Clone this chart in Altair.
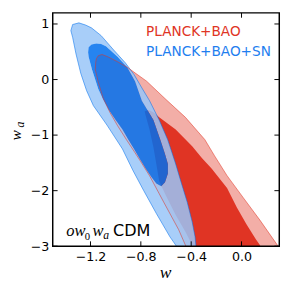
import altair as alt
import pandas as pd

# ---------------- data ----------------
x_ticks = [-1.2, -0.8, -0.4, 0.0]
y_ticks = [-3, -2, -1, 0, 1]

# PLANCK+BAO+SN 95% contour
blue95_w = [-1.356, -1.342, -1.292, -1.238, -1.192, -1.115, -1.015, -0.923, -0.854, -0.792,
            -0.731, -0.654, -0.587, -0.562, -0.523, -0.477, -0.431, -0.392, -0.369, -0.362,
            -0.354, -0.462, -0.523, -0.569, -0.677, -0.777, -0.862, -0.946, -1.069, -1.177,
            -1.231, -1.277, -1.315, -1.342]
blue95_wa = [0.88, 0.99, 1.02, 0.98, 0.93, 0.79, 0.53, 0.30, 0.09, -0.15,
             -0.38, -0.73, -1.08, -1.25, -1.52, -1.87, -2.21, -2.56, -2.83, -2.99,
             -3.26, -3.26, -2.98, -2.83, -2.41, -2.00, -1.64, -1.25, -0.82, -0.47,
             -0.20, 0.11, 0.46, 0.76]

# PLANCK+BAO+SN 68% contour
blue68_w = [-1.219, -1.215, -1.192, -1.154, -1.115, -1.077, -0.985, -0.908, -0.846, -0.792,
            -0.700, -0.646, -0.608, -0.585, -0.585, -0.608, -0.638, -0.677, -0.715, -0.762,
            -0.808, -0.854, -0.900, -0.946, -1.000, -1.054, -1.100, -1.138, -1.188, -1.215]
blue68_wa = [0.49, 0.58, 0.63, 0.65, 0.64, 0.60, 0.41, 0.22, -0.03, -0.38,
             -0.73, -1.08, -1.34, -1.52, -1.69, -1.85, -1.92, -1.87, -1.76, -1.60,
             -1.43, -1.25, -1.08, -0.90, -0.73, -0.55, -0.36, -0.17, 0.18, 0.41]

# PLANCK+BAO 95% contour
red95_w = [-1.152, -1.138, -1.108, -1.062, -0.985, -0.908, -0.754, -0.600, -0.446, -0.292,
           -0.215, -0.115, 0.015, 0.146, 0.285, 0.354, -0.392, -0.446, -0.500, -0.615,
           -0.731, -0.800, -0.854, -0.915, -0.985, -1.046, -1.100, -1.138, -1.162, -1.158]
red95_wa = [0.38, 0.43, 0.45, 0.41, 0.32, 0.22, -0.03, -0.36, -0.68, -1.08,
            -1.37, -1.73, -2.13, -2.53, -2.98, -3.26, -3.26, -2.98, -2.70, -2.22,
            -1.73, -1.48, -1.29, -1.08, -0.83, -0.59, -0.33, -0.05, 0.18, 0.32]

# PLANCK+BAO 68% contour
red68_w = [-0.769, -0.738, -0.700, -0.654, -0.523, -0.392, -0.315, -0.238, -0.115, -0.038,
           0.038, 0.115, 0.146, 0.185, -0.346, -0.392, -0.446, -0.523, -0.600, -0.654,
           -0.677, -0.700, -0.731, -0.754, -0.765]
red68_wa = [-0.57, -0.55, -0.59, -0.68, -0.90, -1.20, -1.41, -1.60, -1.95, -2.30,
            -2.60, -2.88, -2.98, -3.26, -3.26, -2.98, -2.74, -2.44, -2.09, -1.83,
            -1.52, -1.22, -0.90, -0.71, -0.62]

legend_labels = ["PLANCK+BAO", "PLANCK+BAO+SN"]

# ---------------- colours ----------------
RED = "#E03424"
RED_LIGHT = "#F3AEA7"
BLUE = "#006FED"
BLUE_LIGHT = "#99C5F8"

W, H = 233, 240


def ring(ws, was):
    return list(zip(ws, was)) + [(ws[0], was[0])]


def frame(pts):
    return pd.DataFrame({"w": [p[0] for p in pts], "wa": [p[1] for p in pts],
                         "i": list(range(len(pts)))})


red95_df = frame(ring(red95_w, red95_wa))
red68_df = frame(ring(red68_w, red68_wa))
blue68_df = frame(ring(blue68_w, blue68_wa))
blue95_df = frame(ring(blue95_w, blue95_wa))
# blue 95% band = outer ring with the 68% region cut out (reverse winding)
outer = ring(blue95_w, blue95_wa)
inner = ring(blue68_w[::-1], blue68_wa[::-1])
band_df = frame(outer + inner + [outer[0]])

xs = alt.Scale(domain=[-1.5, 0.3], nice=False, zero=False)
ys = alt.Scale(domain=[-3, 1.2], nice=False, zero=False)

X = alt.X("w:Q", scale=xs, title="",
          axis=alt.Axis(values=x_ticks, format=".1f", ticks=False, domain=False, grid=False,
                        labelFont="DejaVu Sans", labelFontSize=13, labelColor="black",
                        labelPadding=5))
Y = alt.Y("wa:Q", scale=ys, title="",
          axis=alt.Axis(values=y_ticks, format="d", ticks=False, domain=False, grid=False,
                        labelFont="DejaVu Sans", labelFontSize=13, labelColor="black",
                        labelPadding=4))


def poly(df, **kw):
    return alt.Chart(df).mark_line(clip=True, **kw).encode(
        x=alt.X("w:Q", scale=xs), y=alt.Y("wa:Q", scale=ys), order="i:Q")


base = alt.Chart(red95_df).mark_line(clip=True, fill=RED_LIGHT, strokeWidth=0).encode(
    x=X, y=Y, order="i:Q")

layers = [
    base,
    poly(red68_df, fill=RED, strokeWidth=0),
    poly(band_df, fill=BLUE_LIGHT, fillOpacity=0.85, strokeWidth=0),
    poly(blue68_df, fill=BLUE, fillOpacity=0.85, strokeWidth=0),
    poly(blue95_df, stroke=BLUE, strokeOpacity=0.55, strokeWidth=1),
    poly(red95_df, stroke=RED, strokeOpacity=0.55, strokeWidth=1),
]

# inward ticks on all four sides
xt = pd.DataFrame({"w": x_ticks})
yt = pd.DataFrame({"wa": y_ticks})
tick_style = dict(color="black", strokeWidth=1)
layers += [
    alt.Chart(xt).mark_rule(**tick_style).encode(x=alt.X("w:Q", scale=xs), y=alt.value(H), y2=alt.value(H - 5)),
    alt.Chart(xt).mark_rule(**tick_style).encode(x=alt.X("w:Q", scale=xs), y=alt.value(0), y2=alt.value(5)),
    alt.Chart(yt).mark_rule(**tick_style).encode(y=alt.Y("wa:Q", scale=ys), x=alt.value(0), x2=alt.value(5)),
    alt.Chart(yt).mark_rule(**tick_style).encode(y=alt.Y("wa:Q", scale=ys), x=alt.value(W - 5), x2=alt.value(W)),
]

# frame
layers.append(
    alt.Chart(pd.DataFrame({"a": [0]})).mark_rect(fillOpacity=0, stroke="black", strokeWidth=1.5).encode(
        x=alt.value(0), x2=alt.value(W), y=alt.value(0), y2=alt.value(H)))


def label(text, x, y, **kw):
    return alt.Chart(pd.DataFrame({"t": [text]})).mark_text(**kw).encode(
        text="t:N", x=alt.value(x), y=alt.value(y))


layers += [
    label(legend_labels[0], 96, 24, align="left", baseline="alphabetic", font="DejaVu Sans",
          fontSize=14, color=RED),
    label(legend_labels[1], 96, 44, align="left", baseline="alphabetic", font="DejaVu Sans",
          fontSize=14, color="#1E7EEF"),
    # o w_0 w_a CDM
    label("ow", 14, 229, align="left", baseline="alphabetic", font="Liberation Serif",
          fontStyle="italic", fontSize=17, color="black"),
    label("0", 33, 234, align="left", baseline="alphabetic", font="Liberation Serif",
          fontSize=11, color="black"),
    label("w", 41, 229, align="left", baseline="alphabetic", font="Liberation Serif",
          fontStyle="italic", fontSize=17, color="black"),
    label("a", 52, 232.5, align="left", baseline="alphabetic", font="Liberation Serif",
          fontStyle="italic", fontSize=12, color="black"),
    label("CDM", 62, 229, align="left", baseline="alphabetic", font="DejaVu Sans",
          fontSize=16.5, color="black"),
    # axis titles
    label("w", 116, 273, align="center", baseline="alphabetic", font="Liberation Serif",
          fontStyle="italic", fontSize=18, color="black"),
    label("w", -33, 126, align="center", baseline="alphabetic", font="Liberation Serif",
          fontStyle="italic", fontSize=16, color="black", angle=270),
    label("a", -30, 115, align="center", baseline="alphabetic", font="Liberation Serif",
          fontStyle="italic", fontSize=12, color="black", angle=270),
]

chart = alt.layer(*layers).properties(
    width=W, height=H,
    autosize=alt.AutoSizeParams(type="none"),
    padding={"left": 46, "top": 1, "right": 10, "bottom": 40},
).configure_view(strokeWidth=0)

chart.save("out.html", embed_options={"renderer": "svg", "actions": False})
